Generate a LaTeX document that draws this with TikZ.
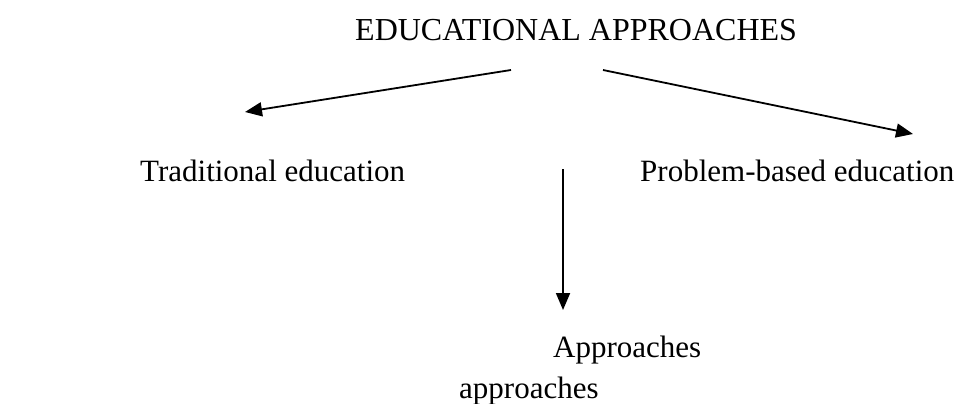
\documentclass[tikz,border=0pt]{standalone}
\usepackage{fontspec}
\setmainfont{Liberation Serif}
\usetikzlibrary{arrows.meta}

\begin{document}
\begin{tikzpicture}[
    x=1pt, y=-1pt,
    font=\fontsize{31}{37}\selectfont,
    label/.style={anchor=base west, inner sep=0pt},
    link/.style={-{Triangle[length=17pt,width=14pt]}, line width=1.8pt}
]
\useasboundingbox (0,0) rectangle (964,404);

\node[label, font=\fontsize{32}{38}\selectfont] (title) at (355,41) {EDUCATIONAL APPROACHES};
\node[label] (trad)  at (140,181) {Traditional education};
\node[label] (prob)  at (640,181) {Problem-based education};
\node[label] (appr)  at (553,357) {Approaches};
\node[label] (appr2) at (459,398) {approaches};

\coordinate (s1) at (511,70);
\coordinate (e1) at (245,112);
\coordinate (s2) at (603,70);
\coordinate (e2) at (913,134);
\coordinate (s3) at (563,169);
\coordinate (e3) at (563,310);

\foreach \a/\b in {s1/e1, s2/e2, s3/e3}
  \draw[link] (\a) -- (\b);
\end{tikzpicture}
\end{document}
